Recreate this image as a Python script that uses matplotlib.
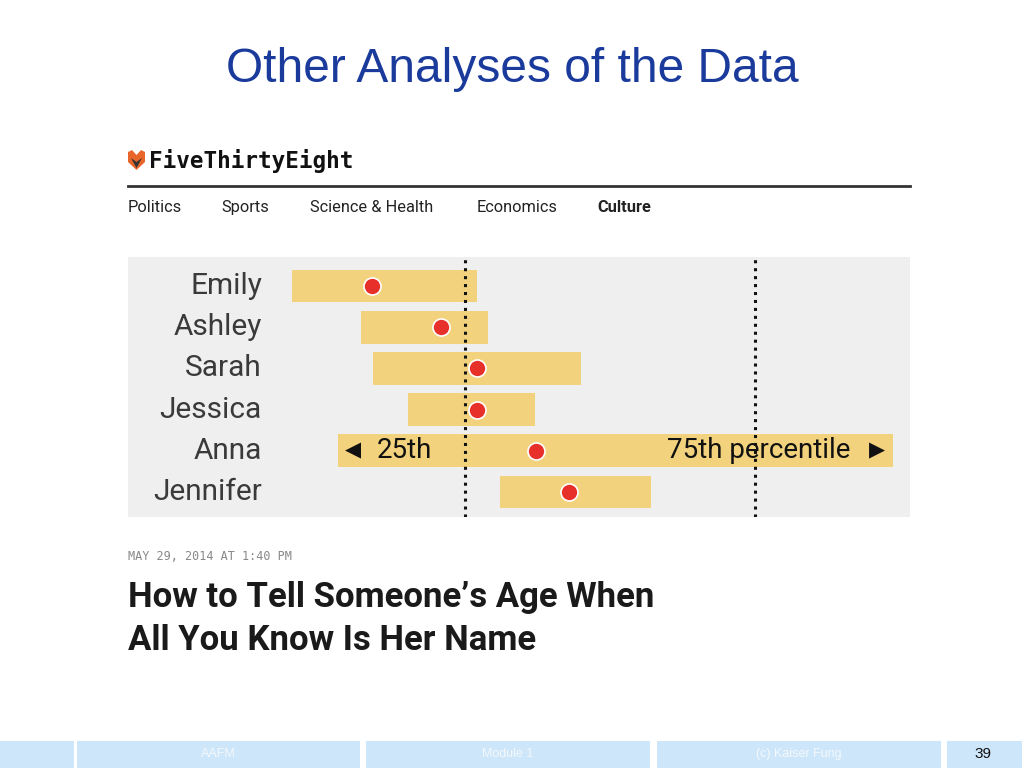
import matplotlib
matplotlib.use("Agg")
import matplotlib.pyplot as plt
from matplotlib.patches import Rectangle, Polygon

# ---- data (x in panel pixel-units) ----
names = ["Emily", "Ashley", "Sarah", "Jessica", "Anna", "Jennifer"]
q25 = [292, 361, 373, 408, 338, 500]
q75 = [477, 488, 581, 535, 893, 651]
median = [372, 441, 477, 477, 536, 569]
ref_lines = [465, 755]
nav_items = ["Politics", "Sports", "Science & Health", "Economics", "Culture"]
nav_x = [128, 221, 310, 477, 597]
footer_labels = ["AAFM", "Module 1", "(c) Kaiser Fung"]
page_number = "39"

W, H = 1024, 768
fig = plt.figure(figsize=(W / 100, H / 100), dpi=100)
fig.patch.set_facecolor("white")

# background layout axes in pixel coordinates
bg = fig.add_axes([0, 0, 1, 1])
bg.set_xlim(0, W)
bg.set_ylim(H, 0)
bg.axis("off")

bg.text(512, 70, "Other Analyses of the Data", ha="center", va="center",
        fontsize=34.5, color="#1a3a9c", family="Liberation Sans")

# logo
bg.add_patch(Polygon([[128, 152], [132, 150], [136.5, 155], [141, 150], [145, 152],
                      [145, 162], [136.5, 170], [128, 162]], closed=True,
                     facecolor="#e8662a", edgecolor="none"))
bg.add_patch(Polygon([[131, 158], [136.5, 162], [142, 158], [136.5, 168]], closed=True,
                     facecolor="#333333", edgecolor="none"))
bg.text(149, 161, "FiveThirtyEight", ha="left", va="center", fontsize=16.3,
        fontweight="bold", family="DejaVu Sans Mono", color="#111111")
bg.plot([128, 910], [186, 186], color="#333333", lw=2)
for lab, x in zip(nav_items, nav_x):
    bg.text(x, 212, lab, ha="left", va="baseline", fontsize=11.8,
            family="Roboto", color="#222222",
            fontweight="bold" if lab == "Culture" else "normal")

bg.text(128, 557, "MAY 29, 2014 AT 1:40 PM", ha="left", va="center", fontsize=8.5,
        family="DejaVu Sans Mono", color="#888888")
bg.text(128, 598, "How to Tell Someone\u2019s Age When", ha="left", va="center",
        fontsize=25, fontweight="bold", family="Roboto", color="#1a1a1a")
bg.text(128, 640, "All You Know Is Her Name", ha="left", va="center",
        fontsize=25, fontweight="bold", family="Roboto", color="#1a1a1a")

# footer
boxes = [(0, 74), (77, 360), (366, 650), (657, 941), (947, 1022)]
for (x0, x1) in boxes:
    bg.add_patch(Rectangle((x0, 741), x1 - x0, 27, facecolor="#cde6f9", edgecolor="none"))
for lab, (x0, x1) in zip(footer_labels, boxes[1:4]):
    bg.text((x0 + x1) / 2, 754, lab, ha="center", va="center", fontsize=9,
            color="#f4f8fc", family="Liberation Sans")
bg.text(983, 754, page_number, ha="center", va="center", fontsize=11,
        color="#111111", family="Liberation Sans")

# ---- chart panel ----
px0, px1, py0, py1 = 128, 910, 257, 517
ax = fig.add_axes([px0 / W, 1 - py1 / H, (px1 - px0) / W, (py1 - py0) / H])
ax.set_facecolor("#efefef")
row0, step = 286, 41.2
ax.set_xlim(px0, px1)
ax.set_ylim((py1 - row0) / step, (py0 - row0) / step)
for s in ax.spines.values():
    s.set_visible(False)
ax.set_xticks([])
ax.set_yticks([])

ys = list(range(len(names)))
ax.barh(ys, [b - a for a, b in zip(q25, q75)], left=q25, height=0.8,
        color="#f2d27c", zorder=1)
for x in ref_lines:
    ax.axvline(x, color="#111111", lw=2.2, ls=(0, (1, 1.6)), zorder=2)
ax.scatter(median, ys, s=150, color="#e8302a", edgecolor="white", linewidths=1.2, zorder=4)
for y, n in zip(ys, names):
    ax.text(262, y, n, ha="right", va="center", fontsize=21.5, color="#3a3a3a",
            family="Roboto", zorder=5)

anna = names.index("Anna")
ax.text(q25[anna] + 7, anna, "\u25C0", ha="left", va="center", fontsize=15,
        color="#111111", family="DejaVu Sans", zorder=5)
ax.text(q25[anna] + 39, anna, "25th", ha="left", va="center", fontsize=20,
        color="#111111", family="Roboto", zorder=5)
ax.text(q75[anna] - 43, anna, "75th percentile", ha="right", va="center", fontsize=20,
        color="#111111", family="Roboto", zorder=5)
ax.text(q75[anna] - 8, anna, "\u25B6", ha="right", va="center", fontsize=15,
        color="#111111", family="DejaVu Sans", zorder=5)

fig.savefig("out.png", dpi=100)
